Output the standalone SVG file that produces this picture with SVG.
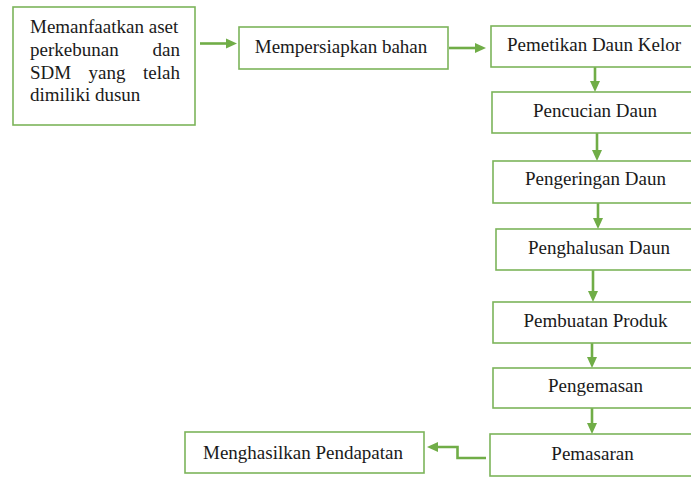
<svg xmlns="http://www.w3.org/2000/svg" width="691" height="477" viewBox="0 0 691 477">
<style>
.box{fill:#ffffff;stroke:#7cb45a;stroke-width:1.6}
.t{font-family:"Liberation Serif","Times New Roman",serif;font-size:19px;fill:#1a1a1a}
.c{text-anchor:middle}
.e{text-anchor:end}
.a{fill:none;stroke:#70ad47;stroke-width:2.6;marker-end:url(#ah)}
</style>
<defs>
<marker id="ah" markerUnits="userSpaceOnUse" markerWidth="11" markerHeight="11" refX="1" refY="5" orient="auto" viewBox="0 0 11 10">
<path d="M0,0 L11,5 L0,10 z" fill="#70ad47"/>
</marker>
</defs>
<rect width="691" height="477" fill="#ffffff"/>
<g id="connectors">
<line class="a" x1="200" y1="43.5" x2="227" y2="43.5"/>
<line class="a" x1="449" y1="48" x2="476" y2="48"/>
<line class="a" x1="595" y1="67" x2="595" y2="82"/>
<line class="a" x1="597" y1="133" x2="597" y2="151"/>
<line class="a" x1="598" y1="203" x2="598" y2="219"/>
<line class="a" x1="593" y1="270" x2="593" y2="292"/>
<line class="a" x1="592" y1="343" x2="592" y2="358"/>
<line class="a" x1="592" y1="408" x2="592" y2="424"/>
<path class="a" d="M486,458 L457.5,458 L457.5,447 L437,447"/>
</g>
<g id="n1">
<rect class="box" x="13" y="7" width="182" height="118"/>
<text class="t" x="30" y="33">Memanfaatkan aset</text>
<text class="t" x="30" y="56">perkebunan</text>
<text class="t e" x="180" y="56">dan</text>
<text class="t" x="30" y="79">SDM</text>
<text class="t c" x="107" y="79">yang</text>
<text class="t e" x="180" y="79">telah</text>
<text class="t" x="30" y="101">dimiliki dusun</text>
</g>
<g id="n2">
<rect class="box" x="239" y="27" width="209" height="42"/>
<text class="t c" x="341" y="53">Mempersiapkan bahan</text>
</g>
<g id="n3">
<rect class="box" x="491" y="26" width="210" height="41"/>
<text class="t c" x="594" y="51">Pemetikan Daun Kelor</text>
</g>
<g id="n4">
<rect class="box" x="492" y="92" width="210" height="41"/>
<text class="t c" x="595" y="117">Pencucian Daun</text>
</g>
<g id="n5">
<rect class="box" x="493" y="161" width="210" height="42"/>
<text class="t c" x="595.5" y="185">Pengeringan Daun</text>
</g>
<g id="n6">
<rect class="box" x="496" y="229" width="210" height="41"/>
<text class="t c" x="599" y="254">Penghalusan Daun</text>
</g>
<g id="n7">
<rect class="box" x="493" y="302" width="210" height="41"/>
<text class="t c" x="595.5" y="327">Pembuatan Produk</text>
</g>
<g id="n8">
<rect class="box" x="493" y="368" width="210" height="40"/>
<text class="t c" x="595.5" y="392">Pengemasan</text>
</g>
<g id="n9">
<rect class="box" x="490" y="434" width="210" height="42"/>
<text class="t c" x="592.5" y="460">Pemasaran</text>
</g>
<g id="n10">
<rect class="box" x="185" y="432" width="239" height="41"/>
<text class="t c" x="303" y="459">Menghasilkan Pendapatan</text>
</g>
</svg>
